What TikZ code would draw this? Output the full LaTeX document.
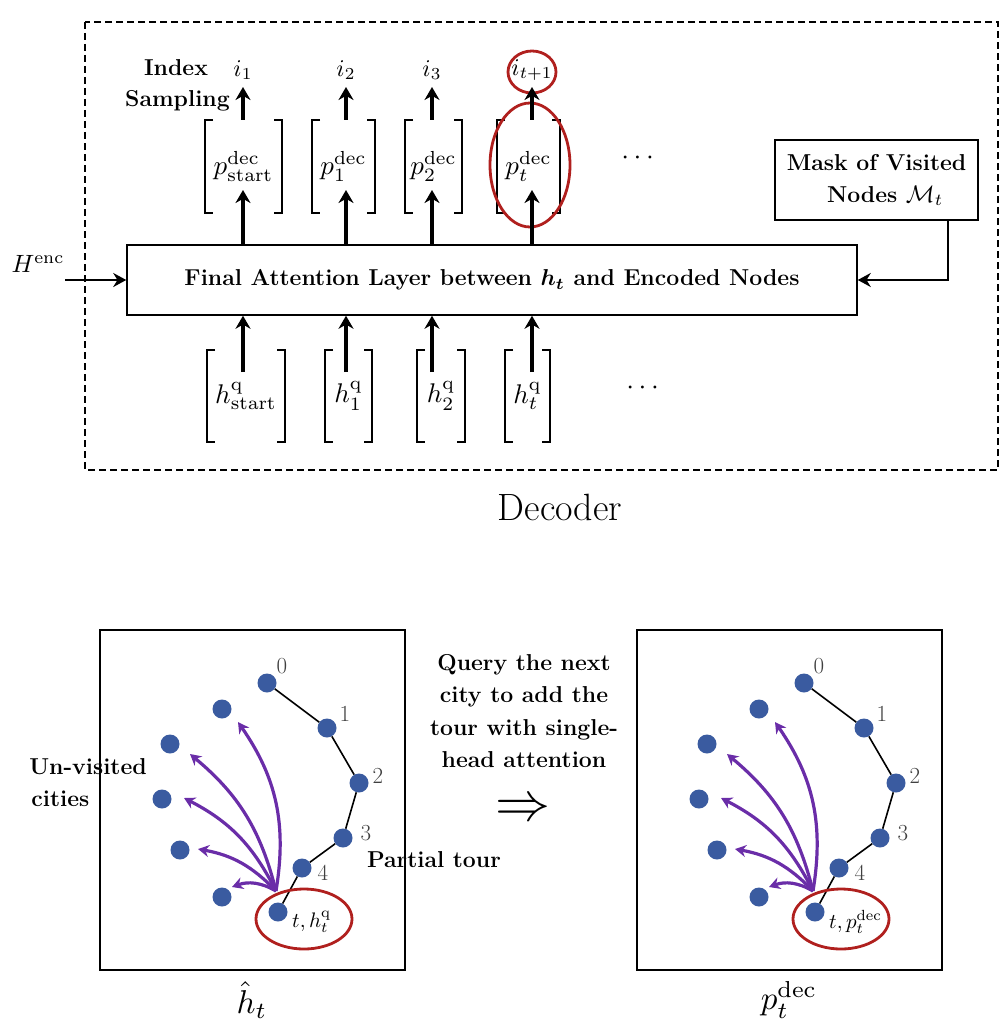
\RequirePackage{fix-cm}
\documentclass[tikz,border=0pt]{standalone}
\usepackage{amsmath,amssymb,graphicx}
\usetikzlibrary{arrows.meta,calc}
\definecolor{dotblue}{HTML}{3A5BA0}
\definecolor{arcpurple}{HTML}{6A2DA8}
\definecolor{hired}{HTML}{B0201E}
\newcommand{\SM}[2]{\scalebox{#1}{\normalsize$#2$}}
\tikzset{
  up/.style={-{Stealth[length=13pt,width=15pt]},line width=3.6pt},
  br/.style={line width=1.1pt},
  lbl/.style={inner sep=2pt},
  bold/.style={font=\fontsize{23}{30}\selectfont\bfseries},
  city/.style={circle,fill=dotblue,inner sep=0pt,minimum size=19pt},
  arc/.style={-{Stealth[length=11pt,width=12pt]},line width=3.2pt,arcpurple},
  red/.style={draw=hired,line width=2.8pt},
  num/.style={font=\fontsize{23}{25}\selectfont,text=black!75},
  harrow/.style={-{Stealth[length=13pt,width=14pt]},line width=2.8pt}
}
\newcommand{\brk}[5]{% x1 x2 y1 y2 name
  \draw[br] (#1+8,#3) -- (#1,#3) -- (#1,#4) -- (#1+8,#4);
  \draw[br] (#2-8,#3) -- (#2,#3) -- (#2,#4) -- (#2-8,#4);
  \coordinate (#5) at ({(#1+#2)/2},{(#3+#4)/2});}
\newcommand{\panel}[4]{% xshift prefix label tlabel
 \begin{scope}[xshift=#1]
  \node[draw,line width=1.5pt,minimum width=305pt,minimum height=340pt,inner sep=0pt] (#2box) at (252.5,800) {};
  \node[city] (#20) at (267,683) {};
  \node[city] (#21) at (327,728) {};
  \node[city] (#22) at (359,783) {};
  \node[city] (#23) at (343,838) {};
  \node[city] (#24) at (302,868) {};
  \node[city] (#2t) at (278,912) {};
  \node[city] (#2u1) at (222,709) {};
  \node[city] (#2u2) at (170,744) {};
  \node[city] (#2u3) at (162,799) {};
  \node[city] (#2u4) at (180,850) {};
  \node[city] (#2u5) at (222,897) {};
  \draw[line width=1.6pt] (#20)--(#21)--(#22)--(#23)--(#24)--(#2t);
  \node[num] at (282,666) {0};
  \node[num] at (345,714) {1};
  \node[num] at (378,776) {2};
  \node[num] at (366,833) {3};
  \node[num] at (323,873) {4};
  \node[anchor=west,inner sep=1pt] (#2tl) at (291,922) {\SM{2.1}{#4}};
  \draw[red] (304,919) ellipse (48pt and 30pt);
  \coordinate (#2src) at (276,891);
  \coordinate (#2e1) at (238,722);
  \coordinate (#2e2) at (190,754);
  \coordinate (#2e3) at (184,798);
  \coordinate (#2e4) at (198,849);
  \coordinate (#2e5) at (232,887);
  \draw[arc] (#2src) to[bend right=22] (#2e1);
  \draw[arc] (#2src) to[bend right=18] (#2e2);
  \draw[arc] (#2src) to[bend right=18] (#2e3);
  \draw[arc] (#2src) to[bend right=18] (#2e4);
  \draw[arc] (#2src) to[bend right=25] (#2e5);
  \node[inner sep=0pt] (#2cap) at (252,1000) {\SM{3.3}{#3}};
 \end{scope}}
\begin{document}
\begin{tikzpicture}[x=1pt,y=-1pt]
\useasboundingbox (0,0) rectangle (1006,1022);
\draw[line width=1.5pt,dash pattern=on 7pt off 4pt] (85,22) rectangle (998,470);
% top row
\node[inner sep=0pt,font=\fontsize{23}{25}\selectfont\bfseries] (idx) at (176,68) {Index};
\node[inner sep=0pt,anchor=east,font=\fontsize{23}{25}\selectfont\bfseries] (smp) at (230,101) {Sampling};
\foreach \x/\n/\t in {243/i1/{i_1},346/i2/{i_2},432/i3/{i_3},532/i4/{i_{t+1}}}
  \node[lbl] (\n) at (\x,70) {\SM{2.4}{\t}};
\draw[red] (532,72) ellipse (24pt and 21pt);
\brk{205}{282}{120}{213}{p1}
\brk{312}{375}{120}{213}{p2}
\brk{405}{462}{120}{213}{p3}
\brk{497}{560}{120}{213}{p4}
\node[lbl] at (p1) {\SM{2.7}{p^{\mathrm{dec}}_{\mathrm{start}}}};
\node[lbl] at (p2) {\SM{2.7}{p^{\mathrm{dec}}_{1}}};
\node[lbl] at (p3) {\SM{2.7}{p^{\mathrm{dec}}_{2}}};
\node[lbl] at (p4) {\SM{2.7}{p^{\mathrm{dec}}_{t}}};
\draw[red] (530,165) ellipse (40pt and 62pt);
\node (dots1) at (640,158) {\SM{2.8}{\cdots}};
\node[draw,line width=1.5pt,minimum width=203pt,minimum height=80pt,align=center,font=\fontsize{23}{32}\selectfont\bfseries] (mask) at (876.5,180) {Mask of Visited\\\ \ Nodes \SM{2.4}{\mathcal{M}_t}};
\node[draw,line width=1.5pt,minimum width=730pt,minimum height=70pt,bold] (att) at (492,280) {Final Attention Layer between \SM{2.3}{\boldsymbol{h_t}} and Encoded Nodes};
\node[lbl] (henc) at (38,264) {\SM{2.5}{H^{\mathrm{enc}}}};
\coordinate (hs) at (65,280);
\draw[harrow] (hs) -- (att.west);
\draw[harrow] (mask.south -| 948,0) -- (948,280) -- (att.east);
\foreach \x/\n in {243/i1,346/i2,432/i3,532/i4}{
  \draw[up] (\x,120) -- (\x,87);
  \draw[up] (\x,245) -- (\x,190);
}
\brk{207}{285}{350}{442}{h1}
\brk{325}{372}{350}{442}{h2}
\brk{417}{465}{350}{442}{h3}
\brk{505}{550}{350}{442}{h4}
\node[lbl] at (h1) {\SM{2.7}{h^{\mathrm{q}}_{\mathrm{start}}}};
\node[lbl] at (h2) {\SM{2.7}{h^{\mathrm{q}}_{1}}};
\node[lbl] at (h3) {\SM{2.7}{h^{\mathrm{q}}_{2}}};
\node[lbl] at (h4) {\SM{2.7}{h^{\mathrm{q}}_{t}}};
\foreach \x in {243,346,432,532}
  \draw[up] (\x,372) -- (att.south -| \x,0);
\node (dots2) at (645,388) {\SM{2.8}{\cdots}};
\node[font=\fontsize{38}{40}\selectfont] (dec) at (560,507) {Decoder};
% bottom
\panel{0pt}{L}{\hat{h}_t}{t, h^{\mathrm{q}}_t}
\panel{537pt}{R}{p^{\mathrm{dec}}_t}{t, p^{\mathrm{dec}}_t}
\node[align=center,font=\fontsize{23}{32}\selectfont\bfseries] (unv) at (88,783) {Un-visited\\\hspace*{-2.4em}cities};
\node[font=\fontsize{23}{25}\selectfont\bfseries] (ptour) at (434,860) {Partial tour};
\node[align=center,font=\fontsize{23}{32.3}\selectfont\bfseries] (query) at (524,711) {Query the next\\city to add the\\tour with single-\\head attention};
\node (arrow) at (523,810) {\SM{5.5}{\Rightarrow}};
\end{tikzpicture}
\end{document}
